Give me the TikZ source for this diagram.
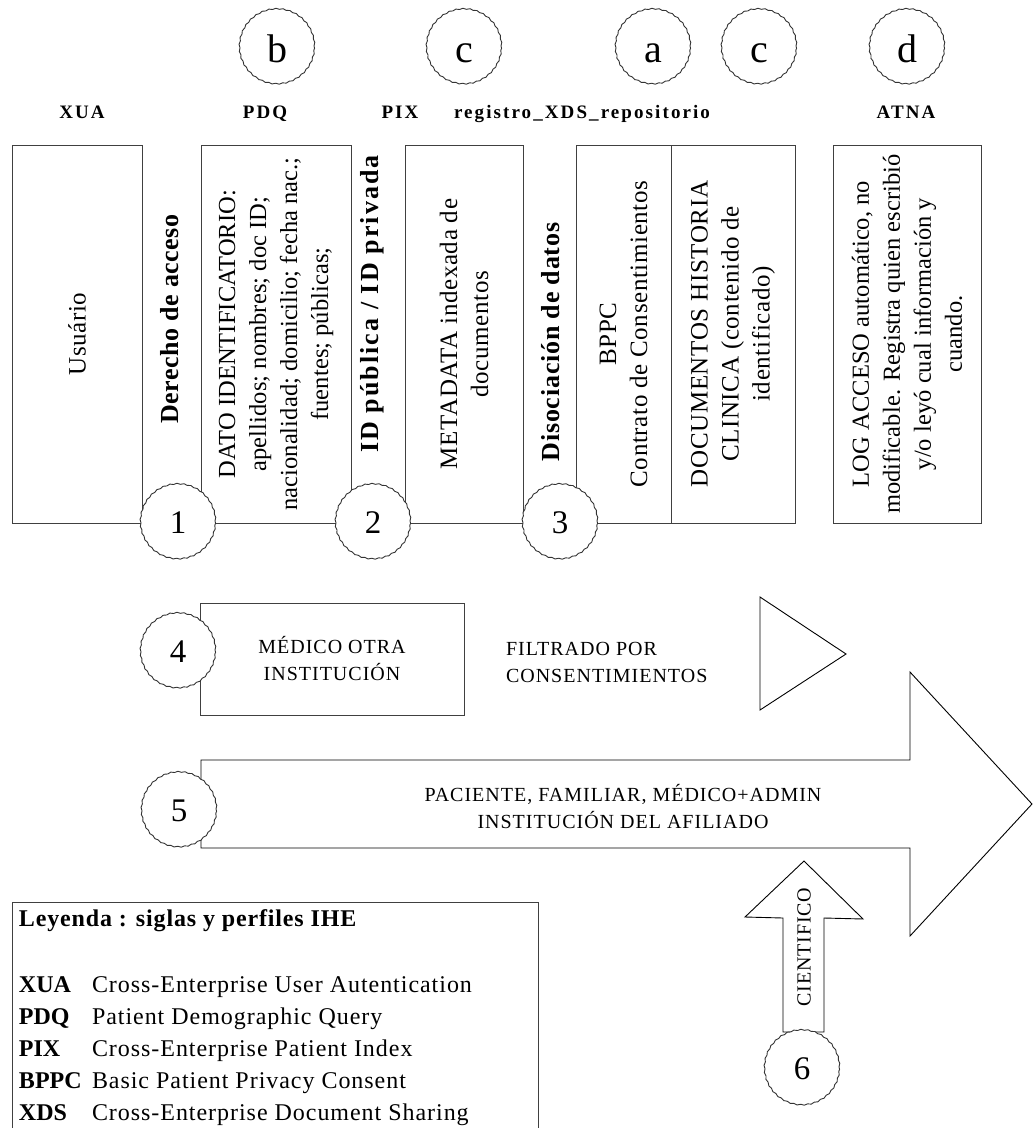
\documentclass[tikz,border=0pt]{standalone}
\usepackage{fontspec}
\setmainfont{Liberation Serif}
\usetikzlibrary{decorations.pathmorphing}
\newcommand\myfs[2]{\fontsize{#1pt}{#2pt}\selectfont}
\newcommand\lsp[1]{\addfontfeature{LetterSpace=#1}}
\begin{document}
\begin{tikzpicture}[x=1pt,y=-1pt,
  every node/.style={inner sep=0pt, outer sep=0pt},
  ln/.style={draw=black!75, line width=1pt},
  boxn/.style={ln, rectangle, rotate=90, align=center, minimum width=378pt, font=\myfs{25}{31}\lsp{2.5}},
  striptext/.style={rotate=90, font=\myfs{26}{30}\bfseries\lsp{#1}},
  toplab/.style={anchor=base, font=\myfs{19}{20}\bfseries\lsp{11}},
  wc/.style={circle, draw=black!80, line width=0.9pt, fill=white, minimum size=75pt,
     decorate, decoration={snake, segment length=7pt, amplitude=0.5pt}},
  bigl/.style={wc, font=\myfs{40}{40}, text height=28pt, text depth=0pt},
  numc/.style={wc, font=\myfs{33}{33}},
  arr/.style={draw=black, line width=0.9pt, fill=white},
  smalltxt/.style={font=\myfs{20}{27}\lsp{5}, align=center},
  legb/.style={anchor=base west, font=\myfs{24}{28}\bfseries},
  legt/.style={anchor=base west, font=\myfs{24}{28}\lsp{4}}
]
\useasboundingbox (0,0) rectangle (1033,1128);

% top letter circles
\node[bigl] (cb) at (277,48) {b};
\node[bigl] (cc) at (464,48) {c};
\node[bigl] (ca) at (653,48) {a};
\node[bigl] (cc2) at (759,48) {c};
\node[bigl] (cd) at (907,48) {d};

% top labels
\node[toplab] (lxua) at (82,118) {XUA};
\node[toplab] (lpdq) at (265,118) {PDQ};
\node[toplab] (lpix) at (400,118) {PIX};
\node[toplab] (lxds) at (582,118) {registro\_XDS\_repositorio};
\node[toplab] (latna) at (906,118) {ATNA};

% boxes
\node[boxn, minimum height=130pt] (usu) at (77,334) {Usuário};
\node[boxn, minimum height=150pt, font=\myfs{24.5}{31}\lsp{0.3}] (dato) at (276,334)
  {DATO IDENTIFICATORIO:\\ apellidos; nombres; doc ID;\\ nacionalidad; domicilio; fecha nac.;\\ fuentes; públicas;};
\node[boxn, minimum height=118pt] (meta) at (464,334)
  {METADATA indexada de\\ documentos};
\node[boxn, minimum height=95pt] (bppc) at (623.5,334)
  {BPPC\\ Contrato de Consentimientos};
\node[boxn, minimum height=124pt] (docs) at (733,334)
  {DOCUMENTOS HISTORIA\\ CLINICA (contenido de\\ identificado)};
\node[boxn, minimum height=148pt, font=\myfs{24.5}{31}\lsp{0.3}] (log) at (907,334)
  {LOG ACCESO automático, no\\ modificable. Registra quien escribió\\ y/o leyó cual información y\\ cuando.};

% strip texts
\node[striptext=2] (tder) at (170,319) {Derecho de acceso};
\node[striptext=8] (tid) at (372,304) {ID pública / ID privada};
\node[striptext=3] (tdis) at (551,342) {Disociación de datos};

% bottom baseline of the strips
\coordinate (bl) at (12,523);
\coordinate (br) at (795,523);
\draw[ln] (bl) -- (br);

% numbered circles on the baseline
\node[numc] (n1) at (178,523) {1};
\node[numc] (n2) at (373,523) {2};
\node[numc] (n3) at (560,523) {3};

% row 4
\node[ln, rectangle, minimum width=264pt, minimum height=112pt, smalltxt] (med) at (332,659)
  {MÉDICO OTRA\\ INSTITUCIÓN};
\node[numc] (n4) at (178,652) {4};
\node[smalltxt, align=left, anchor=west] (filt) at (506,662) {FILTRADO POR\\ CONSENTIMIENTOS};
\draw[arr] (760,597) -- (846,654) -- (760,710) -- cycle;

% big arrow (row 5)
\draw[arr] (201,760) -- (910,760) -- (910,672) -- (1032,804) -- (910,936) -- (910,848) -- (201,848) -- cycle;
\node[smalltxt] (pac) at (623,807) {PACIENTE, FAMILIAR, MÉDICO+ADMIN\\ INSTITUCIÓN DEL AFILIADO};
\node[numc] (n5) at (179,811) {5};

% scientific arrow (6)
\draw[arr] (783,1032) -- (783,918) -- (745,917) -- (804,861) -- (863,919) -- (824,918) -- (824,1032) -- cycle;
\node[rotate=90, font=\myfs{20}{24}\lsp{4}] (cien) at (804,947) {CIENTIFICO};
\node[numc] (n6) at (802,1069) {6};

% legend
\draw[ln] (12,1130) -- (12,902) -- (538,902) -- (538,1130);
\node[legb, font=\myfs{24}{28}\bfseries\lsp{3.5}] (legtit) at (19,926) {Leyenda : siglas y perfiles IHE};
\node[legb] (k1) at (19,992) {XUA};
\node[legt] (d1) at (92,992) {Cross-Enterprise User Autentication};
\node[legb] (k2) at (19,1024) {PDQ};
\node[legt] (d2) at (92,1024) {Patient Demographic Query};
\node[legb] (k3) at (19,1056) {PIX};
\node[legt] (d3) at (92,1056) {Cross-Enterprise Patient Index};
\node[legb] (k4) at (19,1088) {BPPC};
\node[legt] (d4) at (92,1088) {Basic Patient Privacy Consent};
\node[legb] (k5) at (19,1120) {XDS};
\node[legt] (d5) at (92,1120) {Cross-Enterprise Document Sharing};
\end{tikzpicture}
\end{document}
